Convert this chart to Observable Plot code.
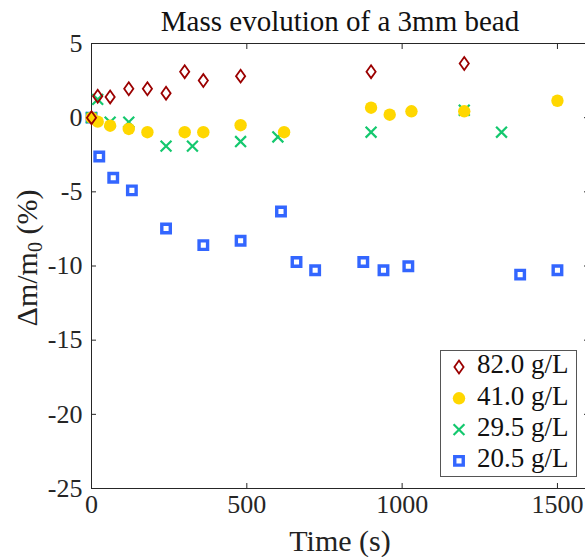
<!DOCTYPE html>
<html><head><meta charset="utf-8">
<script src="https://cdn.jsdelivr.net/npm/d3@7"></script>
<script src="https://cdn.jsdelivr.net/npm/@observablehq/plot@0.6"></script>
<style>
body{margin:0;background:#fff;overflow:hidden}
#chart{position:relative;width:585px;height:557px;overflow:hidden}
</style>
</head><body><div id="chart"></div>
<script>
// ---- data ----
const seriesNames = ["82.0 g/L", "41.0 g/L", "29.5 g/L", "20.5 g/L"];
const time82 = [0, 20, 60, 120, 180, 240, 300, 360, 480, 900, 1200];
const mass82 = [0, 1.45, 1.4, 1.95, 1.95, 1.65, 3.1, 2.5, 2.8, 3.1, 3.65];
const time41 = [0, 20, 60, 120, 180, 300, 360, 480, 620, 900, 960, 1030, 1200, 1500];
const mass41 = [0, -0.27, -0.54, -0.76, -0.98, -0.98, -0.98, -0.51, -0.98, 0.67, 0.2, 0.43, 0.43, 1.14];
const time295 = [0, 20, 60, 120, 240, 325, 480, 600, 900, 1200, 1320];
const mass295 = [0, 1.23, -0.3, -0.3, -1.92, -1.92, -1.61, -1.3, -0.98, 0.5, -0.98];
const time205 = [0, 25, 70, 130, 240, 360, 480, 610, 660, 720, 875, 940, 1020, 1380, 1500];
const mass205 = [0, -2.62, -4.05, -4.9, -7.47, -8.59, -8.3, -6.33, -9.73, -10.29, -9.73, -10.29, -10.02, -10.58, -10.29];
const xTicks = [0, 500, 1000, 1500];
const yTicks = [5, 0, -5, -10, -15, -20, -25];
const titleText = "Mass evolution of a 3mm bead";
const xLabel = "Time (s)";

const rows = (t, m) => t.map((d, i) => ({t: d, m: m[i]}));
const d82 = rows(time82, mass82), d41 = rows(time41, mass41), d295 = rows(time295, mass295), d205 = rows(time205, mass205);

// pick an installed serif font
function pickSerif() {
  const c = document.createElement("canvas").getContext("2d");
  const probe = "Mass evolution g/L 1500 Wmgi";
  const w = f => { c.font = `40px ${f}`; return c.measureText(probe).width; };
  const base1 = w("monospace"), base2 = w("sans-serif");
  const cands = ["Liberation Serif", "Times New Roman", "Tinos", "DejaVu Serif", "Noto Serif", "FreeSerif", "Nimbus Roman", "Times"];
  for (const f of cands) {
    const a = w(`'${f}', monospace`), b = w(`'${f}', sans-serif`);
    if (Math.abs(a - b) < 0.01 && Math.abs(a - base1) > 0.01) return `'${f}', serif`;
  }
  return "serif";
}
const font = pickSerif();

// narrow diamond like MATLAB's
const narrowDiamond = {draw(ctx, size) {
  const r = Math.sqrt(size / Math.PI);
  ctx.moveTo(0, -1.4 * r); ctx.lineTo(r, 0); ctx.lineTo(0, 1.4 * r); ctx.lineTo(-r, 0); ctx.closePath();
}};

const colors = {c82: "#9b0000", c41: "#ffd700", c295: "#14c86e", c205: "#3366ff"};
const axisColor = "#262626";

const plot = Plot.plot({
  width: 589, height: 557,
  marginLeft: 91, marginRight: 1, marginTop: 43, marginBottom: 69,
  x: {domain: [0, 1600]},
  y: {domain: [-25, 5]},
  style: {fontFamily: font, fontSize: "26px", color: axisColor, background: "#fff", maxWidth: "none", overflow: "visible"},
  marks: [
    Plot.frame({stroke: axisColor, strokeWidth: 1}),
    Plot.axisX({anchor: "bottom", ticks: xTicks, tickSize: 0, tickPadding: 6, fontSize: 26, label: null, tickFormat: d => String(d)}),
    Plot.axisY({anchor: "left", ticks: yTicks, tickSize: 0, tickPadding: 9, fontSize: 26, label: null, tickFormat: d => String(d)}),
    Plot.axisX({anchor: "bottom", ticks: xTicks, tickSize: -5, tickFormat: () => "", label: null}),
    Plot.axisX({anchor: "top", ticks: xTicks, tickSize: -5, tickFormat: () => "", label: null}),
    Plot.axisY({anchor: "left", ticks: yTicks, tickSize: -5, tickFormat: () => "", label: null}),
    Plot.axisY({anchor: "right", ticks: yTicks, tickSize: -5, tickFormat: () => "", label: null}),
    Plot.dot(d205, {x: "t", y: "m", symbol: "square", r: 4.8, stroke: colors.c205, strokeWidth: 3.4, fill: "#fff"}),
    Plot.dot(d295, {x: "t", y: "m", symbol: "times", r: 5, stroke: colors.c295, strokeWidth: 2.2}),
    Plot.dot(d41, {x: "t", y: "m", symbol: "circle", r: 6.2, fill: colors.c41, stroke: null}),
    Plot.dot(d82, {x: "t", y: "m", symbol: narrowDiamond, r: 4.6, stroke: colors.c82, strokeWidth: 1.8, fill: "none"}),
    Plot.text([titleText], {frameAnchor: "top", lineAnchor: "middle", dy: -22, fontSize: 29, fill: "#111"}),
    Plot.text([xLabel], {frameAnchor: "bottom", lineAnchor: "middle", dy: 53, fontSize: 30, fill: "#222"})
  ]
});

document.getElementById("chart").appendChild(plot);

const svg = d3.select(plot);
const yl = svg.append("text")
  .attr("transform", "translate(30,258) rotate(-90)")
  .attr("text-anchor", "middle").attr("dominant-baseline", "middle")
  .attr("font-size", 30).attr("fill", "#222").attr("font-family", font);
yl.append("tspan").text("Δm/m");
yl.append("tspan").attr("font-size", 20).attr("dy", 7).text("0");
yl.append("tspan").attr("dy", -7).text(" (%)");

const legendSymbols = [
  {type: narrowDiamond, size: Math.PI * 4.6 * 4.6, stroke: colors.c82, sw: 1.8, fill: "none"},
  {type: d3.symbolCircle, size: Math.PI * 6.2 * 6.2, stroke: "none", sw: 0, fill: colors.c41},
  {type: d3.symbolTimes, size: Math.PI * 5 * 5, stroke: colors.c295, sw: 2.2, fill: "none"},
  {type: d3.symbolSquare, size: Math.PI * 4.8 * 4.8, stroke: colors.c205, sw: 3.4, fill: "#fff"}
];
const lg = svg.append("g");
lg.append("rect").attr("x", 440.5).attr("y", 350.5).attr("width", 136).attr("height", 126)
  .attr("fill", "#fff").attr("stroke", "#555").attr("stroke-width", 1);
seriesNames.forEach((name, i) => {
  const cy = 367 + i * 31.3;
  const s = legendSymbols[i];
  lg.append("path").attr("d", d3.symbol(s.type, s.size)()).attr("transform", `translate(459,${cy})`)
    .attr("fill", s.fill).attr("stroke", s.stroke).attr("stroke-width", s.sw);
  lg.append("text").attr("x", 477).attr("y", cy).attr("dominant-baseline", "middle")
    .attr("text-anchor", "start")
    .attr("font-size", 27).attr("fill", "#111").attr("font-family", font).text(name);
});
</script>
</body></html>
